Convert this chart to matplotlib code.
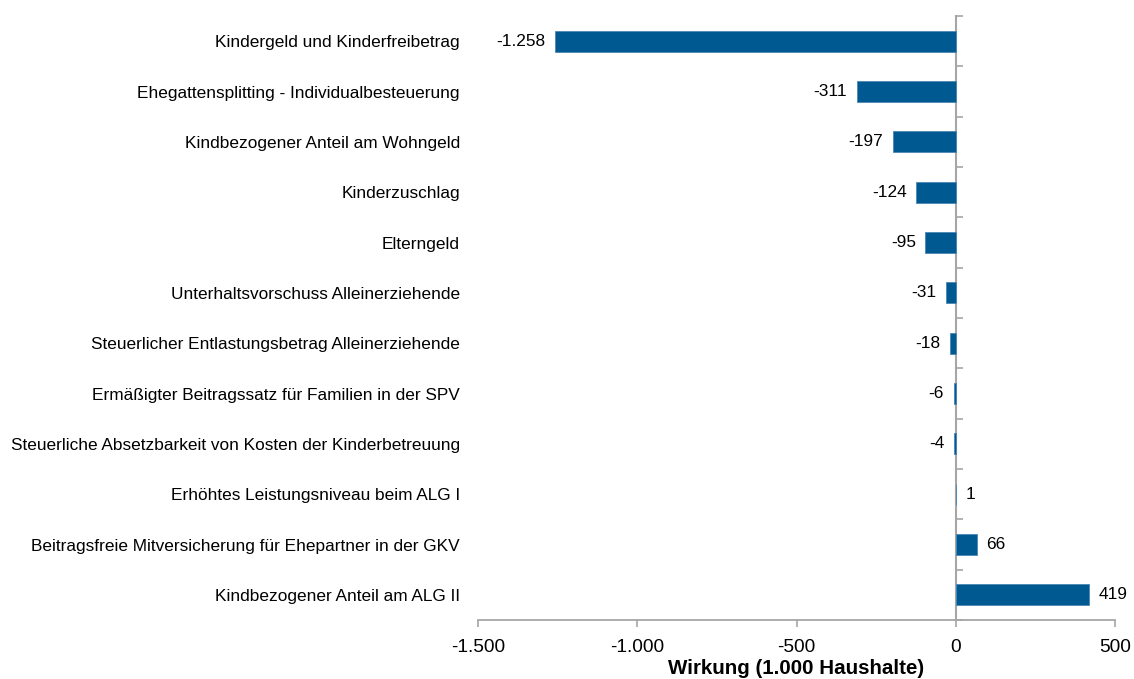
import matplotlib
matplotlib.use("Agg")
import matplotlib.pyplot as plt
from matplotlib.ticker import FuncFormatter
import numpy as np

plt.rcParams['font.family'] = ['Liberation Sans', 'DejaVu Sans']

categories = [
    "Kindergeld und Kinderfreibetrag",
    "Ehegattensplitting - Individualbesteuerung",
    "Kindbezogener Anteil am Wohngeld",
    "Kinderzuschlag",
    "Elterngeld",
    "Unterhaltsvorschuss Alleinerziehende",
    "Steuerlicher Entlastungsbetrag Alleinerziehende",
    "Ermäßigter Beitragssatz für Familien in der SPV",
    "Steuerliche Absetzbarkeit von Kosten der Kinderbetreuung",
    "Erhöhtes Leistungsniveau beim ALG I",
    "Beitragsfreie Mitversicherung für Ehepartner in der GKV",
    "Kindbezogener Anteil am ALG II",
]
values = [-1258, -311, -197, -124, -95, -31, -18, -6, -4, 1, 66, 419]
x_ticks = [-1500, -1000, -500, 0, 500]
x_label = "Wirkung (1.000 Haushalte)"

BAR_COLOR = "#005A91"
BAR_EDGE = "#4A86B5"
GRAY = "#A6A6A6"


def de_fmt(v, pos=None):
    s = f"{abs(int(round(v))):,}".replace(",", ".")
    return ("-" if v < 0 else "") + s


fig = plt.figure(figsize=(11.34, 6.79), dpi=100)
W, H = 1134, 679
ax = fig.add_axes([478 / W, 1 - 620 / H, (1115 - 478) / W, (620 - 16) / H])

y = np.arange(len(categories))
bars = ax.barh(y, values, height=0.42, color=BAR_COLOR,
               edgecolor=BAR_EDGE, linewidth=0.6, zorder=3)

ax.set_xlim(x_ticks[0], x_ticks[-1])
ax.set_ylim(len(categories) - 0.5, -0.5)

ax.set_xticks(x_ticks)
ax.xaxis.set_major_formatter(FuncFormatter(de_fmt))
ax.tick_params(axis='x', direction='out', length=5, width=1.2, color=GRAY,
               labelsize=13.8, pad=9, labelcolor='black')

ax.set_yticks(y)
ax.set_yticklabels(categories)
ax.tick_params(axis='y', length=0, labelsize=12.4, pad=13, labelcolor='black')

for s in ['top', 'right', 'left']:
    ax.spines[s].set_visible(False)
ax.spines['bottom'].set_color(GRAY)
ax.spines['bottom'].set_linewidth(1.3)

# vertical zero axis with boundary ticks
zero_frac = (0 - x_ticks[0]) / (x_ticks[-1] - x_ticks[0])
sec = ax.secondary_yaxis(zero_frac)
sec.set_yticks(np.arange(len(categories) + 1) - 0.5)
sec.set_yticklabels([])
sec.tick_params(axis='y', direction='out', length=5, width=1.2, color=GRAY)
for sp in sec.spines.values():
    sp.set_color(GRAY)
    sp.set_linewidth(1.5)

labels = [de_fmt(v) for v in values]
ax.bar_label(bars, labels=labels, padding=7, fontsize=12.4, color='black')

ax.set_xlabel(x_label, fontsize=14.8, fontweight='bold', labelpad=2)

fig.savefig("out.png", dpi=100)
